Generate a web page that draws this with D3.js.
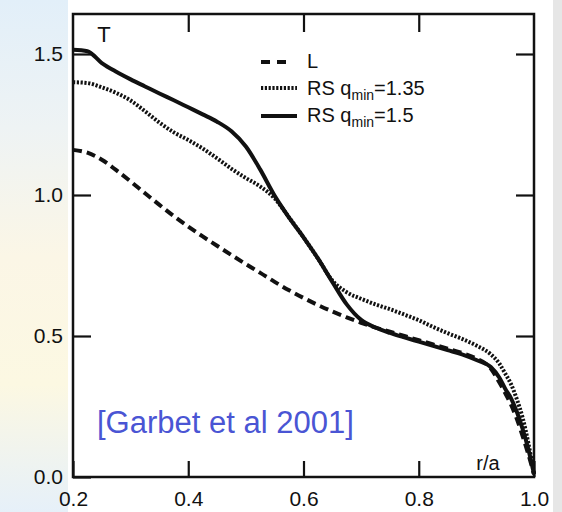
<!DOCTYPE html>
<html>
<head>
<meta charset="utf-8">
<script src="https://cdn.jsdelivr.net/npm/d3@7"></script>
<style>
  body { margin: 0; background: #fff; }
  svg { display: block; font-family: "Liberation Sans", Arial, sans-serif; }
</style>
</head>
<body>
<div id="chart"></div>
<script>
// r/a grid shared by all three profiles
const r = [0.2, 0.225, 0.25, 0.275, 0.3, 0.325, 0.35, 0.375, 0.4, 0.425, 0.45, 0.475,
  0.5, 0.525, 0.55, 0.575, 0.6, 0.625, 0.65, 0.675, 0.7, 0.725, 0.75, 0.775, 0.8,
  0.825, 0.85, 0.875, 0.9, 0.925, 0.94, 0.95, 0.96, 0.97, 0.98, 0.99, 1.0];

// L (dashed)
const T_L = [1.16, 1.15, 1.125, 1.088, 1.048, 1.006, 0.965, 0.925, 0.888, 0.853, 0.82, 0.787,
  0.755, 0.724, 0.692, 0.662, 0.635, 0.61, 0.587, 0.566, 0.547, 0.53, 0.515, 0.5, 0.485,
  0.47, 0.455, 0.44, 0.42, 0.385, 0.335, 0.298, 0.257, 0.207, 0.147, 0.082, 0.01];

// RS qmin=1.35 (dotted)
const T_RS135 = [1.4, 1.397, 1.382, 1.362, 1.335, 1.297, 1.257, 1.222, 1.195, 1.165, 1.13, 1.093,
  1.06, 1.03, 0.988, 0.92, 0.85, 0.775, 0.697, 0.655, 0.632, 0.612, 0.595, 0.576, 0.556,
  0.532, 0.51, 0.49, 0.466, 0.435, 0.402, 0.367, 0.33, 0.277, 0.212, 0.122, 0.01];

// RS qmin=1.5 (solid)
const T_RS15 = [1.515, 1.51, 1.468, 1.437, 1.41, 1.385, 1.36, 1.336, 1.311, 1.286, 1.26, 1.226,
  1.172, 1.09, 0.997, 0.92, 0.85, 0.775, 0.692, 0.612, 0.557, 0.53, 0.511, 0.495, 0.48,
  0.465, 0.45, 0.435, 0.415, 0.39, 0.352, 0.313, 0.28, 0.232, 0.172, 0.1, 0.01];

const xTicks = [0.2, 0.4, 0.6, 0.8, 1.0];
const yTicks = [0, 0.5, 1.0, 1.5];

const W = 562, H = 512;
const frame = { left: 73, right: 534, top: 14, bottom: 477 };

const svg = d3.select("#chart").append("svg")
  .attr("width", W)
  .attr("height", H);

// slide background bits at the sides
const grad = svg.append("defs").append("linearGradient")
  .attr("id", "side").attr("x1", 0).attr("y1", 0).attr("x2", 0).attr("y2", 1);
[[0, "#e2eff9"], [0.25, "#eef3f4"], [0.5, "#fbf6e6"], [0.75, "#fcf8e2"], [1, "#e6f0f9"]]
  .forEach(([o, c]) => grad.append("stop").attr("offset", o).attr("stop-color", c));
svg.append("rect").attr("x", 0).attr("y", 0).attr("width", 68).attr("height", H).attr("fill", "url(#side)");
svg.append("rect").attr("x", 553).attr("y", 0).attr("width", 9).attr("height", H).attr("fill", "#e6e6e6");

const x = d3.scaleLinear().domain([0.2, 1.0]).range([frame.left, frame.right]);
const y = d3.scaleLinear().domain([0, (frame.bottom - frame.top) / 282]).range([frame.bottom, frame.top]);

// axes, ticks pointing inward
const styleAxis = (g) => {
  g.select(".domain").remove();
  g.selectAll(".tick line").attr("stroke", "#111").attr("stroke-width", 2.2);
  g.selectAll(".tick text").attr("fill", "#111").style("font-size", "21px")
    .style("font-family", "'Liberation Sans', Arial, sans-serif");
};

svg.append("g")
  .attr("transform", `translate(0, ${frame.bottom})`)
  .call(d3.axisBottom(x).tickValues(xTicks).tickSize(-16).tickPadding(14).tickFormat(d3.format(".1f")))
  .call(styleAxis);

svg.append("g")
  .attr("transform", `translate(0, ${frame.top})`)
  .call(d3.axisTop(x).tickValues(xTicks.slice(1, -1)).tickSize(-18).tickFormat(""))
  .call(styleAxis);

svg.append("g")
  .attr("transform", `translate(${frame.left}, 0)`)
  .call(d3.axisLeft(y).tickValues(yTicks).tickSize(-18).tickPadding(10).tickFormat(d3.format(".1f")))
  .call(styleAxis);

svg.append("g")
  .attr("transform", `translate(${frame.right}, 0)`)
  .call(d3.axisRight(y).tickValues(yTicks.slice(1)).tickSize(-18).tickFormat(""))
  .call(styleAxis);

// frame
svg.append("rect")
  .attr("x", frame.left).attr("y", frame.top)
  .attr("width", frame.right - frame.left).attr("height", frame.bottom - frame.top)
  .attr("fill", "none").attr("stroke", "#111").attr("stroke-width", 2.5);

// profiles
const line = d3.line()
  .x((d) => x(d[0]))
  .y((d) => y(d[1]))
  .curve(d3.curveMonotoneX);

const series = [
  { name: "L", vals: T_L, dash: "9,5", width: 4 },
  { name: "RS 1.35", vals: T_RS135, dash: "2.2,1.6", width: 4 },
  { name: "RS 1.5", vals: T_RS15, dash: null, width: 4 }
];

svg.selectAll(".profile")
  .data(series)
  .join("path")
  .attr("class", "profile")
  .attr("fill", "none")
  .attr("stroke", "#111")
  .attr("stroke-width", (s) => s.width)
  .attr("stroke-dasharray", (s) => s.dash)
  .attr("d", (s) => line(r.map((v, i) => [v, s.vals[i]])));

// legend
const legendRows = [
  { lineY: 62, textY: 68, x2: 288, dash: "9,7", width: 4, label: "L", sub: null, tail: "" },
  { lineY: 88, textY: 95, x2: 297, dash: "2.2,1.6", width: 4, label: "RS q", sub: "min", tail: "=1.35" },
  { lineY: 116, textY: 122, x2: 297, dash: null, width: 4, label: "RS q", sub: "min", tail: "=1.5" }
];

const lg = svg.append("g");
legendRows.forEach((row) => {
  lg.append("line")
    .attr("x1", 261).attr("x2", row.x2)
    .attr("y1", row.lineY).attr("y2", row.lineY)
    .attr("stroke", "#111").attr("stroke-width", row.width)
    .attr("stroke-dasharray", row.dash);
  const t = lg.append("text")
    .attr("x", 307).attr("y", row.textY)
    .attr("fill", "#111").style("font-size", "20px");
  t.append("tspan").text(row.label);
  if (row.sub) {
    t.append("tspan").attr("dy", 5).style("font-size", "14px").text(row.sub);
    t.append("tspan").attr("dy", -5).text(row.tail);
  }
});

// labels
svg.append("text").attr("x", 104).attr("y", 42).attr("text-anchor", "middle")
  .attr("fill", "#111").style("font-size", "22px").text("T");
svg.append("text").attr("x", 488).attr("y", 470).attr("text-anchor", "middle")
  .attr("fill", "#111").style("font-size", "20px").text("r/a");

svg.append("text").attr("x", 97).attr("y", 433)
  .attr("fill", "#4a55d4").style("font-size", "31px").text("[Garbet et al 2001]");
</script>
</body>
</html>
